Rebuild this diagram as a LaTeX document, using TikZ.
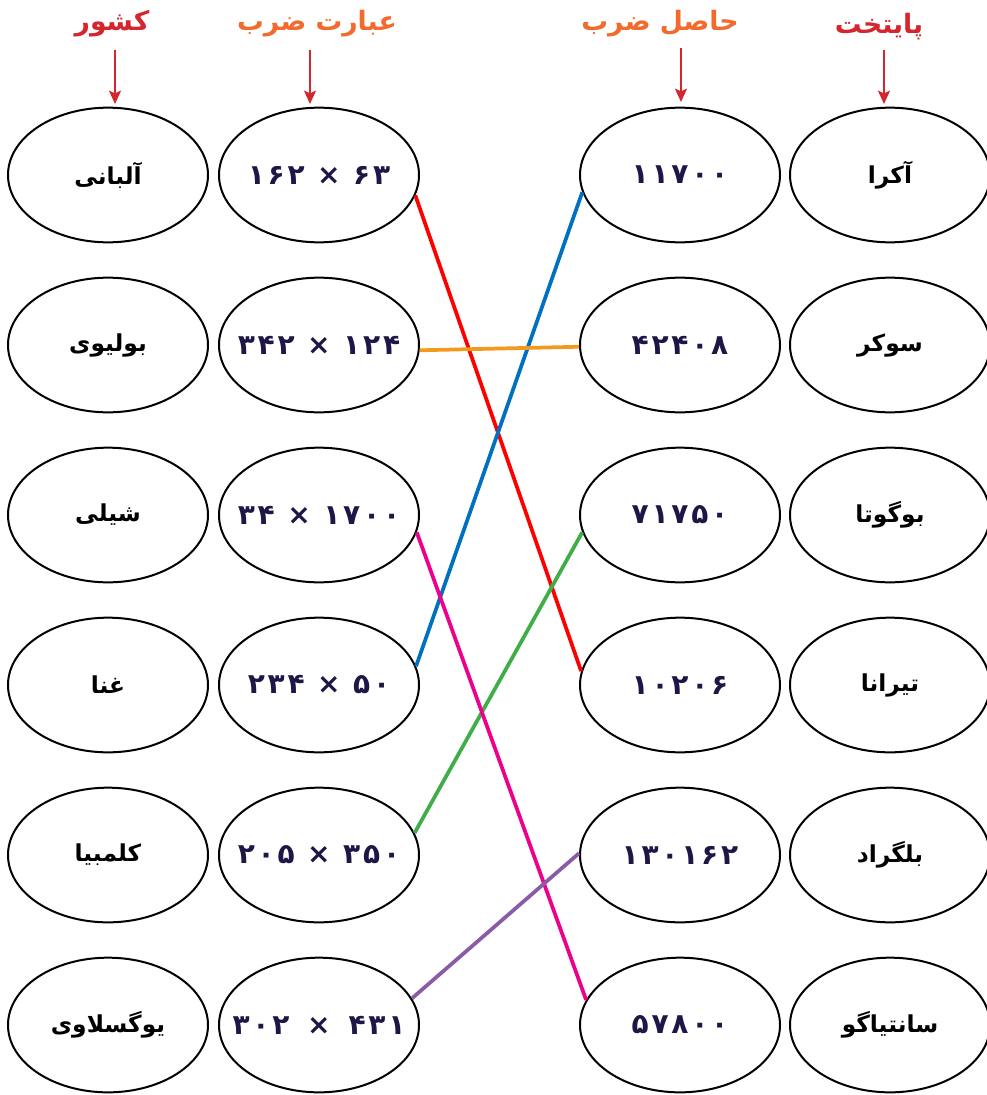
\documentclass[tikz,border=0pt]{standalone}
\usepackage{fontspec}
\usetikzlibrary{shapes.geometric,arrows.meta}
\TeXXeTstate=1
\newfontfamily\arfont[Script=Arabic]{DejaVu Sans}
\newfontfamily\numfont[Script=Arabic,LetterSpace=10]{DejaVu Sans}
\definecolor{hred}{HTML}{D3262F}
\definecolor{horange}{HTML}{F26A2C}
\definecolor{numcol}{HTML}{1E1646}
\definecolor{lred}{HTML}{FF0000}
\definecolor{lblue}{HTML}{0070C0}
\definecolor{lorange}{HTML}{F39A1E}
\definecolor{lgreen}{HTML}{3FAE49}
\definecolor{lpink}{HTML}{EC008C}
\definecolor{lpurple}{HTML}{8A5CA8}
\tikzset{
  oval/.style={ellipse,draw=black,line width=1.5pt,minimum width=150pt,minimum height=101pt,inner xsep=-40pt,inner ysep=-10pt},
  word/.style={oval,font=\arfont\bfseries\fontsize{17.5}{21}\selectfont},
  numb/.style={oval,text=numcol,font=\numfont\bfseries\fontsize{21}{25}\selectfont},
  header/.style={font=\arfont\bfseries\fontsize{20}{24}\selectfont,inner sep=0pt},
  hdrarrow/.style={draw=hred,line width=1.5pt,-{Stealth[length=10pt,width=9pt,inset=2pt]}},
  link/.style={line width=2.8pt}
}
\begin{document}
\begin{tikzpicture}[x=0.75pt,y=-0.75pt]
\useasboundingbox (0,0) rectangle (987,1095);
% headers
\node[header,text=hred] (h1) at (112,24) {\beginR کشور\endR};
\node[header,text=horange] (h2) at (317,24) {\beginR عبارت ضرب\endR};
\node[header,text=horange] (h3) at (660,24) {\beginR حاصل ضرب\endR};
\node[header,text=hred] (h4) at (879,27) {\beginR پایتخت\endR};
\coordinate (s1) at (115,50); \coordinate (t1) at (115,104);
\coordinate (s2) at (310,50); \coordinate (t2) at (310,104);
\coordinate (s3) at (681,48); \coordinate (t3) at (681,102);
\coordinate (s4) at (884,50); \coordinate (t4) at (884,104);
\draw[hdrarrow] (s1) -- (t1);
\draw[hdrarrow] (s2) -- (t2);
\draw[hdrarrow] (s3) -- (t3);
\draw[hdrarrow] (s4) -- (t4);
% countries
\node[word] (c1) at (108,175) {\beginR آلبانی\endR};
\node[word] (c2) at (108,345) {\beginR بولیوی\endR};
\node[word] (c3) at (108,515) {\beginR شیلی\endR};
\node[word] (c4) at (108,685) {\beginR غنا\endR};
\node[word] (c5) at (108,855) {\beginR کلمبیا\endR};
\node[word] (c6) at (108,1025) {\beginR یوگسلاوی\endR};
% expressions
\node[numb] (e1) at (319,175) {۱۶۲ × ۶۳};
\node[numb] (e2) at (319,345) {۳۴۲ × ۱۲۴};
\node[numb] (e3) at (319,515) {۳۴ × ۱۷۰۰};
\node[numb] (e4) at (319,685) {۲۳۴ × ۵۰};
\node[numb] (e5) at (319,855) {۲۰۵ × ۳۵۰};
\node[numb] (e6) at (319,1025) {۳۰۲\hspace{4pt} × \hspace{4pt}۴۳۱};
% products
\node[numb] (p1) at (680,175) {۱۱۷۰۰};
\node[numb] (p2) at (680,345) {۴۲۴۰۸};
\node[numb] (p3) at (680,515) {۷۱۷۵۰};
\node[numb] (p4) at (680,685) {۱۰۲۰۶};
\node[numb] (p5) at (680,855) {۱۳۰۱۶۲};
\node[numb] (p6) at (680,1025) {۵۷۸۰۰};
% capitals
\node[word] (k1) at (890,175) {\beginR آکرا\endR};
\node[word] (k2) at (890,345) {\beginR سوکر\endR};
\node[word] (k3) at (890,515) {\beginR بوگوتا\endR};
\node[word] (k4) at (890,685) {\beginR تیرانا\endR};
\node[word] (k5) at (890,855) {\beginR بلگراد\endR};
\node[word] (k6) at (890,1025) {\beginR سانتیاگو\endR};
% links
\draw[link,lred] (e1.-12) -- (p4.172);
\draw[link,lblue] (e4.11) -- (p1.-170);
\draw[link,lorange] (e2.-3) -- (p2.181);
\draw[link,lgreen] (e5.13) -- (p3.-170);
\draw[link,lpink] (e3.-10) -- (p6.165);
\draw[link,lpurple] (e6.16) -- (p5.179);
\end{tikzpicture}
\end{document}
